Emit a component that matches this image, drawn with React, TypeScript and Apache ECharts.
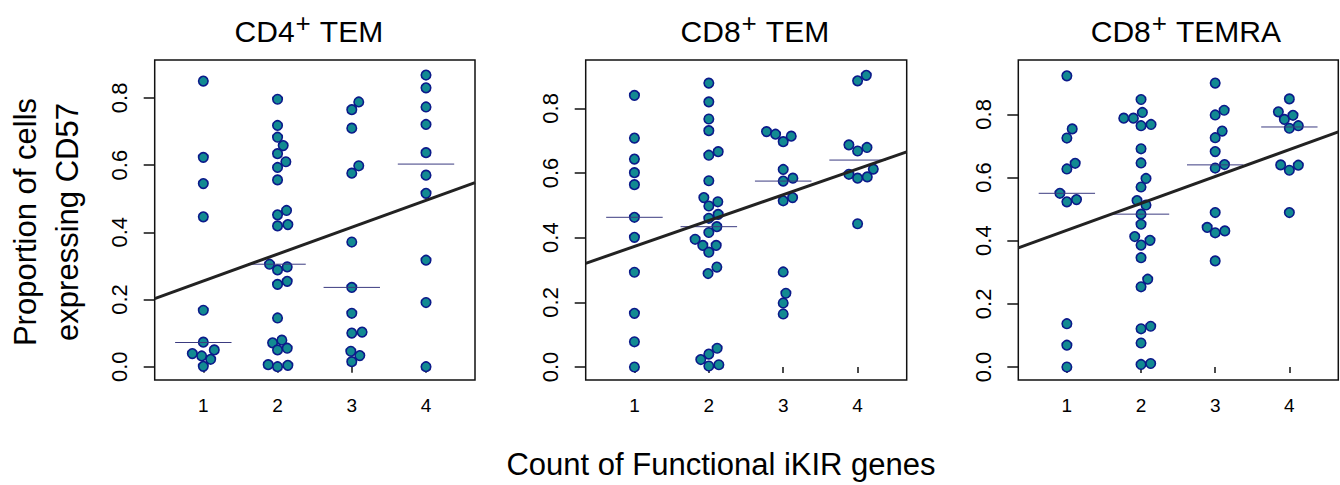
import React, { useEffect, useRef } from "react";
import * as echarts from "echarts";

const FONT = '"Liberation Sans", Arial, Helvetica, sans-serif';

// ---- data (x = category position with beeswarm offset, y = proportion)
const panelTitles = [
  ["CD4", "TEM"],
  ["CD8", "TEM"],
  ["CD8", "TEMRA"],
];
const xTickValues = [1, 2, 3, 4];
const yTickValues = [0, 0.2, 0.4, 0.6, 0.8];

const cd4TemPoints: number[][] = [
  [1, 0.85], [1, 0.623], [1, 0.545], [1, 0.446], [1, 0.168], [1, 0.073], [0.852, 0.039], [0.978, 0.032], [1.148, 0.05], [1.099, 0.022], [1, 0.001],
  [2, 0.796], [2, 0.718], [2, 0.683], [2.076, 0.658], [2, 0.634], [2.112, 0.61], [2, 0.593], [2, 0.556], [2.121, 0.465], [2, 0.452], [2, 0.419], [2.139, 0.423], [1.892, 0.305], [2, 0.288], [2.13, 0.297], [2, 0.245], [2.13, 0.254], [2, 0.145], [1.933, 0.071], [2.058, 0.079], [2, 0.05], [2.13, 0.055], [1.874, 0.006], [2, 0.0], [2.139, 0.004],
  [3.094, 0.788], [3, 0.765], [3, 0.71], [3.094, 0.598], [3, 0.576], [3, 0.371], [3, 0.236], [3, 0.159], [3, 0.1], [3.139, 0.103], [2.987, 0.046], [3.108, 0.033], [3, 0.015],
  [4, 0.868], [4, 0.83], [4, 0.773], [4, 0.721], [4, 0.637], [4, 0.57], [4, 0.516], [4, 0.317], [4, 0.191], [4, 0.0],
];
const cd8TemPoints: number[][] = [
  [1, 0.84], [1, 0.708], [1, 0.643], [1, 0.601], [1, 0.564], [1, 0.463], [1, 0.401], [1, 0.293], [1, 0.166], [1, 0.078], [1, 0.0],
  [2, 0.878], [2, 0.82], [2, 0.767], [2, 0.731], [2, 0.655], [2.126, 0.666], [2, 0.576], [1.933, 0.524], [2.121, 0.511], [2, 0.498], [2.126, 0.472], [2, 0.46], [2.108, 0.434], [2, 0.416], [1.816, 0.395], [1.919, 0.376], [2.099, 0.376], [2, 0.355], [2.108, 0.309], [1.99, 0.289], [2.112, 0.058], [2, 0.04], [1.892, 0.023], [2, 0.003], [2.135, 0.007],
  [2.776, 0.728], [2.897, 0.72], [3, 0.697], [3.108, 0.714], [3, 0.611], [3, 0.575], [3.13, 0.584], [3, 0.514], [3.126, 0.524], [3, 0.294], [3.036, 0.228], [3, 0.198], [3, 0.164],
  [4, 0.885], [4.117, 0.902], [3.883, 0.687], [4, 0.668], [4.126, 0.679], [4.211, 0.612], [3.883, 0.596], [4, 0.584], [4.13, 0.588], [4, 0.443],
];
const cd8TemraPoints: number[][] = [
  [1, 0.922], [1.072, 0.754], [1, 0.725], [1.112, 0.645], [1, 0.627], [0.906, 0.55], [1, 0.523], [1.13, 0.53], [1, 0.137], [1, 0.069], [1, 0.0],
  [2, 0.847], [1.767, 0.788], [1.897, 0.788], [2.018, 0.806], [2, 0.764], [2.135, 0.768], [2, 0.691], [2, 0.646], [2.067, 0.597], [2, 0.57], [1.946, 0.527], [2.067, 0.513], [2, 0.484], [2, 0.452], [1.915, 0.413], [2, 0.386], [2.121, 0.401], [2, 0.346], [2.09, 0.278], [2, 0.254], [2.13, 0.129], [2, 0.121], [2, 0.076], [2, 0.008], [2.13, 0.011],
  [3, 0.899], [3, 0.798], [3.121, 0.813], [3.094, 0.747], [3, 0.726], [3, 0.682], [3, 0.63], [3.126, 0.641], [3, 0.489], [2.892, 0.442], [3, 0.425], [3.13, 0.431], [3, 0.336],
  [4, 0.849], [3.852, 0.808], [3.933, 0.784], [4.049, 0.797], [4, 0.756], [4.121, 0.764], [3.883, 0.64], [4, 0.623], [4.121, 0.639], [4, 0.489],
];

const cd4TemMedians = [0.072, 0.305, 0.236, 0.603];
const cd8TemMedians = [0.463, 0.434, 0.575, 0.64];
const cd8TemraMedians = [0.55, 0.484, 0.64, 0.76];

// regression fits: [intercept, slope]
const cd4TemFit = [0.175, 0.08];
const cd8TemFit = [0.293, 0.0799];
const cd8TemraFit = [0.348, 0.0851];

const yRanges = [
  [-0.0396, 0.9128],
  [-0.0402, 0.9495],
  [-0.0412, 0.9721],
];
const xRange = [0.345, 4.66];

const panels = [
  { points: cd4TemPoints, medians: cd4TemMedians, fit: cd4TemFit },
  { points: cd8TemPoints, medians: cd8TemMedians, fit: cd8TemFit },
  { points: cd8TemraPoints, medians: cd8TemraMedians, fit: cd8TemraFit },
];

const gridBoxes = [
  { left: 154.7, width: 320.3 },
  { left: 585.7, width: 321 },
  { left: 1018.3, width: 320 },
];
const titleCenters = [309, 755, 1186];

export default function App() {
  const ref = useRef<HTMLDivElement>(null);
  useEffect(() => {
    if (!ref.current) return;
    const chart = echarts.init(ref.current, undefined, { renderer: "svg" });

    const grid = gridBoxes.map((g) => ({
      left: g.left,
      top: 60,
      width: g.width,
      height: 320,
      show: true,
      borderColor: "#111",
      borderWidth: 1.5,
      backgroundColor: "transparent",
      containLabel: false,
    }));

    const xAxis = panels.map((_, i) => ({
      type: "value",
      gridIndex: i,
      min: xRange[0],
      max: xRange[1],
      splitLine: { show: false },
      axisLine: { show: false },
      axisTick: {
        show: true,
        inside: false,
        length: 6,
        lineStyle: { color: "#111", width: 1.5 },
        customValues: xTickValues,
      },
      axisLabel: {
        customValues: xTickValues,
        fontSize: 19,
        fontFamily: FONT,
        color: "#000",
        margin: 16,
        formatter: (v: number) => String(v),
      },
    }));

    const yAxis = panels.map((_, i) => ({
      type: "value",
      gridIndex: i,
      min: yRanges[i][0],
      max: yRanges[i][1],
      splitLine: { show: false },
      axisLine: { show: false },
      axisTick: {
        show: true,
        inside: false,
        length: 11,
        lineStyle: { color: "#111", width: 1.5 },
        customValues: yTickValues,
      },
      axisLabel: {
        customValues: yTickValues,
        rotate: 90,
        fontSize: 22,
        fontFamily: FONT,
        color: "#000",
        margin: 24,
        formatter: (v: number) => v.toFixed(1),
      },
    }));

    const series: any[] = [];
    panels.forEach((p, i) => {
      series.push({
        type: "scatter",
        xAxisIndex: i,
        yAxisIndex: i,
        data: p.points,
        symbol: "circle",
        symbolSize: 9.5,
        itemStyle: { color: "#128a92", borderColor: "#0b1a8a", borderWidth: 1.6, opacity: 1 },
        emphasis: { disabled: true },
        silent: true,
        z: 2,
      });
      series.push({
        type: "line",
        xAxisIndex: i,
        yAxisIndex: i,
        data: p.medians.flatMap((m, k) => [
          [k + 1 - 0.38, m],
          [k + 1 + 0.38, m],
          [k + 1 + 0.38, null],
        ]),
        connectNulls: false,
        showSymbol: false,
        symbol: "none",
        lineStyle: { color: "#3b3b80", width: 1 },
        silent: true,
        z: 3,
      });
      series.push({
        type: "line",
        xAxisIndex: i,
        yAxisIndex: i,
        data: [
          [xRange[0], p.fit[0] + p.fit[1] * xRange[0]],
          [xRange[1], p.fit[0] + p.fit[1] * xRange[1]],
        ],
        showSymbol: false,
        symbol: "none",
        lineStyle: { color: "#222", width: 3 },
        silent: true,
        z: 4,
      });
    });

    const graphic: any[] = panelTitles.map((t, i) => ({
      type: "text",
      x: titleCenters[i],
      y: 31,
      silent: true,
      style: {
        legacy: false,
        text: `{a|${t[0]}}{b|+}{a| ${t[1]}}`,
        align: "center",
        verticalAlign: "middle",
        fill: "#000",
        rich: {
          a: { fontSize: 30, fontFamily: FONT, lineHeight: 42, fill: "#000" },
          b: { fontSize: 26, fontFamily: FONT, lineHeight: 22, verticalAlign: "top", fill: "#000", padding: [0, 1, 0, 1] },
        },
      },
    }));
    graphic.push({
      type: "text",
      x: 46,
      y: 222,
      rotation: Math.PI / 2,
      silent: true,
      style: {
        legacy: false,
        text: "Proportion of cells\nexpressing CD57",
        fontSize: 31,
        fontFamily: FONT,
        lineHeight: 42,
        align: "center",
        verticalAlign: "middle",
        fill: "#000",
      },
    });
    graphic.push({
      type: "text",
      x: 721,
      y: 464,
      silent: true,
      style: {
        legacy: false,
        text: "Count of Functional iKIR genes",
        fontSize: 31,
        fontFamily: FONT,
        align: "center",
        verticalAlign: "middle",
        fill: "#000",
      },
    });

    chart.setOption({
      animation: false,
      backgroundColor: "#fff",
      grid,
      xAxis,
      yAxis,
      series,
      graphic,
    });
    return () => chart.dispose();
  }, []);
  return (
    <div
      ref={ref}
      style={{ position: "fixed", left: 0, top: 0, width: 1340, height: 485 }}
    />
  );
}
